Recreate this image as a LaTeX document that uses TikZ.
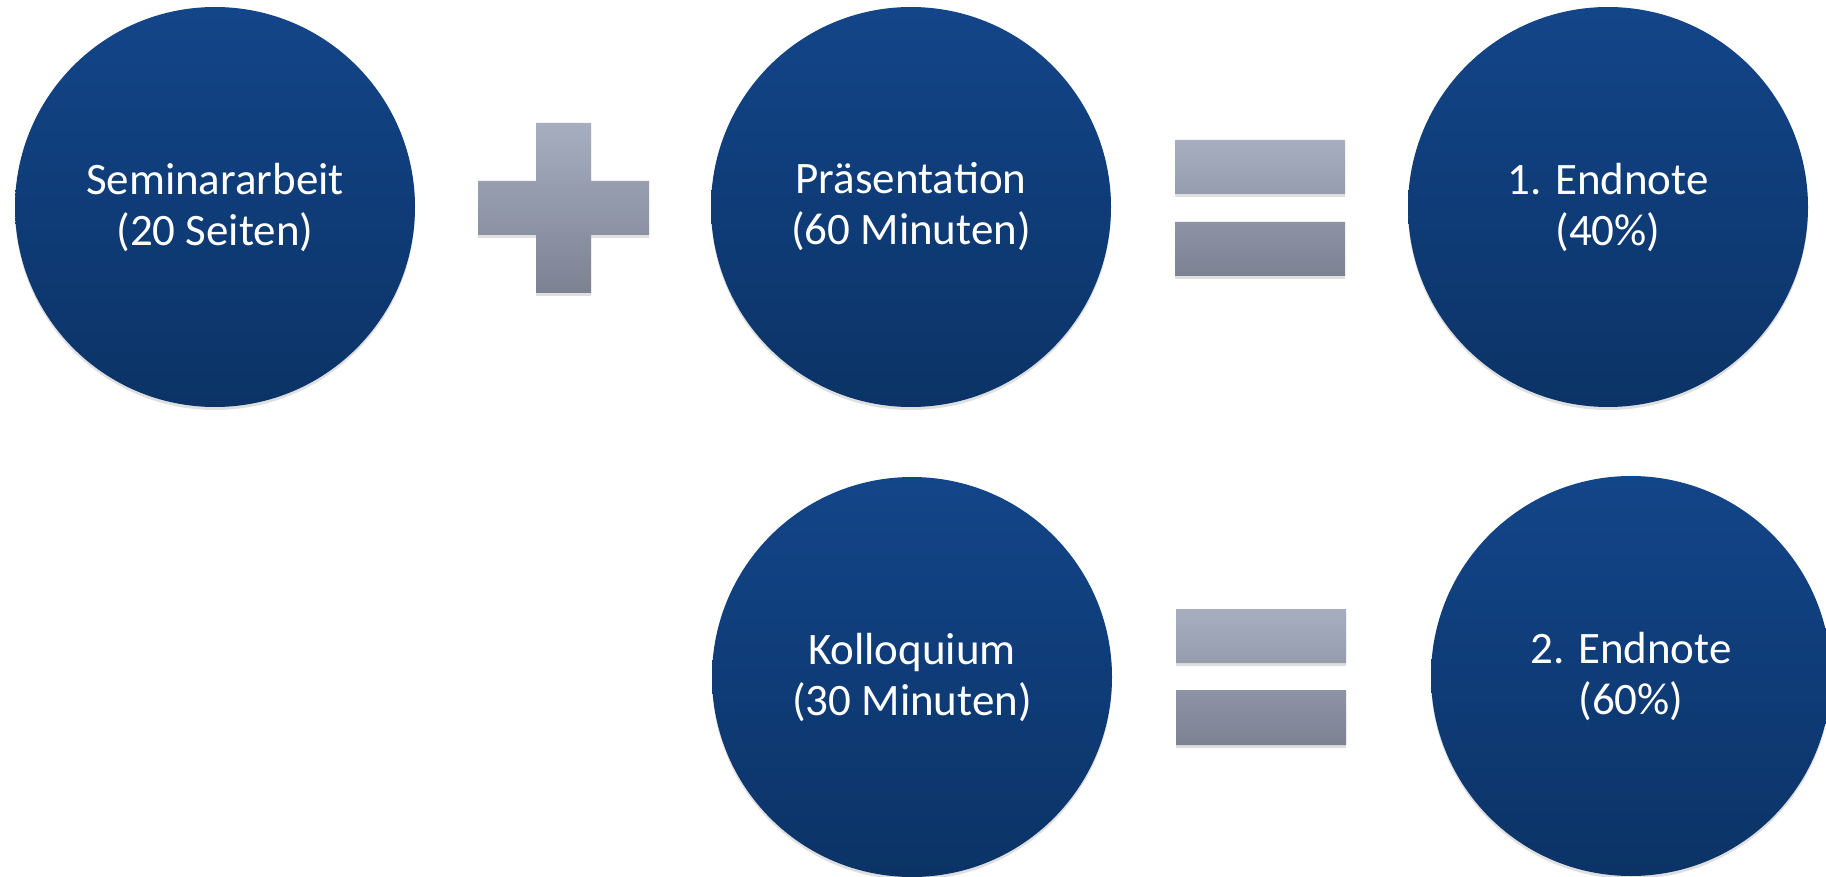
\documentclass[tikz,border=0pt]{standalone}
\usepackage{fontspec}
\setmainfont{Carlito}
\usetikzlibrary{shadows}
\definecolor{ctop}{HTML}{134589}
\definecolor{cbot}{HTML}{0B3366}
\definecolor{gtop}{HTML}{A6AEC0}
\definecolor{gbot}{HTML}{7C8292}
\tikzset{
  circ/.style={circle, minimum size=200pt, inner sep=0pt, top color=ctop, bottom color=cbot,
    draw=none, text=white, align=center, font=\fontsize{22.5}{25.5}\selectfont,
    drop shadow={opacity=0.25, shadow xshift=0pt, shadow yshift=-1.5pt}},
  sym/.style={top color=gtop, bottom color=gbot, draw=none,
    drop shadow={opacity=0.25, shadow xshift=0pt, shadow yshift=-1.5pt}}
}
\begin{document}
\begin{tikzpicture}[x=0.5pt,y=-0.5pt]
\useasboundingbox (0,0) rectangle (1826,877);
\node[circ] (sem) at (215,207) {Seminararbeit\\(20 Seiten)};
\node[circ] (pra) at (911,207) {Präsentation\\(60 Minuten)};
\node[circ] (en1) at (1608,207) {1. Endnote\\(40\%)};
\node[circ] (kol) at (912,677) {Kolloquium\\(30 Minuten)};
\node[circ] (en2) at (1631,676) {2. Endnote\\(60\%)};
% plus
\shade[sym] (536,123) -- (591,123) -- (591,181) -- (649,181) -- (649,235) -- (591,235)
  -- (591,293) -- (536,293) -- (536,235) -- (478,235) -- (478,181) -- (536,181) -- cycle;
% equals top
\shade[sym] (1175,140) rectangle (1345,194) (1175,222) rectangle (1345,276);
% equals bottom
\shade[sym] (1176,609) rectangle (1346,663) (1176,690) rectangle (1346,745);
\end{tikzpicture}
\end{document}
